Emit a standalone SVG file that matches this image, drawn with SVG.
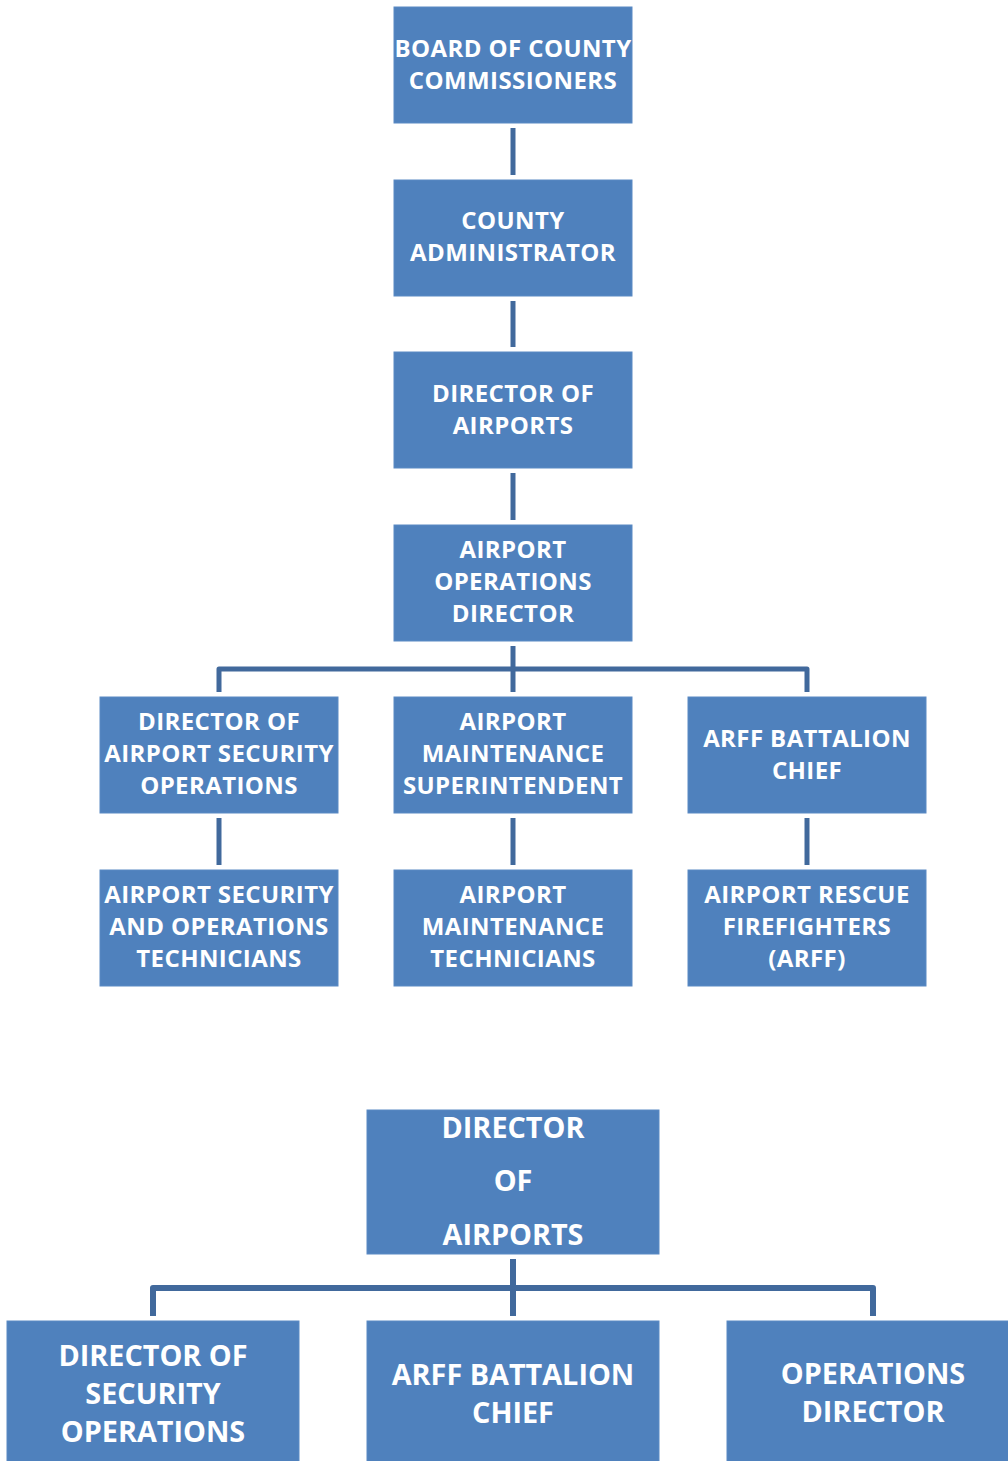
<svg xmlns="http://www.w3.org/2000/svg" width="1008" height="1461" viewBox="0 0 1008 1461">
  <style>
    .box { fill: #4F81BD; stroke: #5B8AC4; stroke-width: 1; }
    .wire { fill: none; stroke: #41699C; stroke-width: 5; stroke-linejoin: round; }
    .wire2 { fill: none; stroke: #41699C; stroke-width: 6; stroke-linejoin: round; }
    .t { font-family: "Open Sans", "Liberation Sans", sans-serif; font-weight: bold; fill: #FFFFFF; text-anchor: middle; font-size: 24px; letter-spacing: 0.4px; }
    .tl { font-family: "Open Sans", "Liberation Sans", sans-serif; font-weight: bold; fill: #FFFFFF; text-anchor: middle; font-size: 28.8px; }
  </style>
  <rect width="1008" height="1461" fill="#FFFFFF"/>

  <!-- connectors -->
  <g id="connectors">
    <path class="wire" d="M513 128 V175"/>
    <path class="wire" d="M513 301 V347"/>
    <path class="wire" d="M513 473 V520"/>
    <path class="wire" d="M513 646 V692"/>
    <path class="wire" d="M219 692 V669 H807 V692"/>
    <path class="wire" d="M219 818 V865"/>
    <path class="wire" d="M513 818 V865"/>
    <path class="wire" d="M807 818 V865"/>
    <path class="wire2" d="M513 1259 V1316"/>
    <path class="wire2" d="M153 1316 V1288 H873 V1316"/>
  </g>

  <!-- upper chart -->
  <g id="board">
    <rect class="box" x="394" y="7" width="238" height="116"/>
    <text class="t" x="513" y="57">BOARD OF COUNTY</text>
    <text class="t" x="513" y="89">COMMISSIONERS</text>
  </g>
  <g id="county-administrator">
    <rect class="box" x="394" y="180" width="238" height="116"/>
    <text class="t" x="513" y="229">COUNTY</text>
    <text class="t" x="513" y="261">ADMINISTRATOR</text>
  </g>
  <g id="director-of-airports">
    <rect class="box" x="394" y="352" width="238" height="116"/>
    <text class="t" x="513" y="402">DIRECTOR OF</text>
    <text class="t" x="513" y="434">AIRPORTS</text>
  </g>
  <g id="airport-operations-director">
    <rect class="box" x="394" y="525" width="238" height="116"/>
    <text class="t" x="513" y="558">AIRPORT</text>
    <text class="t" x="513" y="590">OPERATIONS</text>
    <text class="t" x="513" y="622">DIRECTOR</text>
  </g>
  <g id="security-operations-director">
    <rect class="box" x="100" y="697" width="238" height="116"/>
    <text class="t" x="219" y="730">DIRECTOR OF</text>
    <text class="t" x="219" y="762">AIRPORT SECURITY</text>
    <text class="t" x="219" y="794">OPERATIONS</text>
  </g>
  <g id="maintenance-superintendent">
    <rect class="box" x="394" y="697" width="238" height="116"/>
    <text class="t" x="513" y="730">AIRPORT</text>
    <text class="t" x="513" y="762">MAINTENANCE</text>
    <text class="t" x="513" y="794">SUPERINTENDENT</text>
  </g>
  <g id="arff-battalion-chief">
    <rect class="box" x="688" y="697" width="238" height="116"/>
    <text class="t" x="807" y="747">ARFF BATTALION</text>
    <text class="t" x="807" y="779">CHIEF</text>
  </g>
  <g id="security-technicians">
    <rect class="box" x="100" y="870" width="238" height="116"/>
    <text class="t" x="219" y="903">AIRPORT SECURITY</text>
    <text class="t" x="219" y="935">AND OPERATIONS</text>
    <text class="t" x="219" y="967">TECHNICIANS</text>
  </g>
  <g id="maintenance-technicians">
    <rect class="box" x="394" y="870" width="238" height="116"/>
    <text class="t" x="513" y="903">AIRPORT</text>
    <text class="t" x="513" y="935">MAINTENANCE</text>
    <text class="t" x="513" y="967">TECHNICIANS</text>
  </g>
  <g id="rescue-firefighters">
    <rect class="box" x="688" y="870" width="238" height="116"/>
    <text class="t" x="807" y="903">AIRPORT RESCUE</text>
    <text class="t" x="807" y="935">FIREFIGHTERS</text>
    <text class="t" x="807" y="967">(ARFF)</text>
  </g>

  <!-- lower chart -->
  <g id="director-of-airports-2">
    <rect class="box" x="367" y="1110" width="292" height="144"/>
    <text class="tl" x="513" y="1138">DIRECTOR</text>
    <text class="tl" x="513" y="1191">OF</text>
    <text class="tl" x="513" y="1245">AIRPORTS</text>
  </g>
  <g id="director-of-security-operations">
    <rect class="box" x="7" y="1321" width="292" height="150"/>
    <text class="tl" x="153" y="1366">DIRECTOR OF</text>
    <text class="tl" x="153" y="1404">SECURITY</text>
    <text class="tl" x="153" y="1442">OPERATIONS</text>
  </g>
  <g id="arff-battalion-chief-2">
    <rect class="box" x="367" y="1321" width="292" height="150"/>
    <text class="tl" x="513" y="1385">ARFF BATTALION</text>
    <text class="tl" x="513" y="1423">CHIEF</text>
  </g>
  <g id="operations-director">
    <rect class="box" x="727" y="1321" width="292" height="150"/>
    <text class="tl" x="873" y="1384">OPERATIONS</text>
    <text class="tl" x="873" y="1422">DIRECTOR</text>
  </g>
</svg>
